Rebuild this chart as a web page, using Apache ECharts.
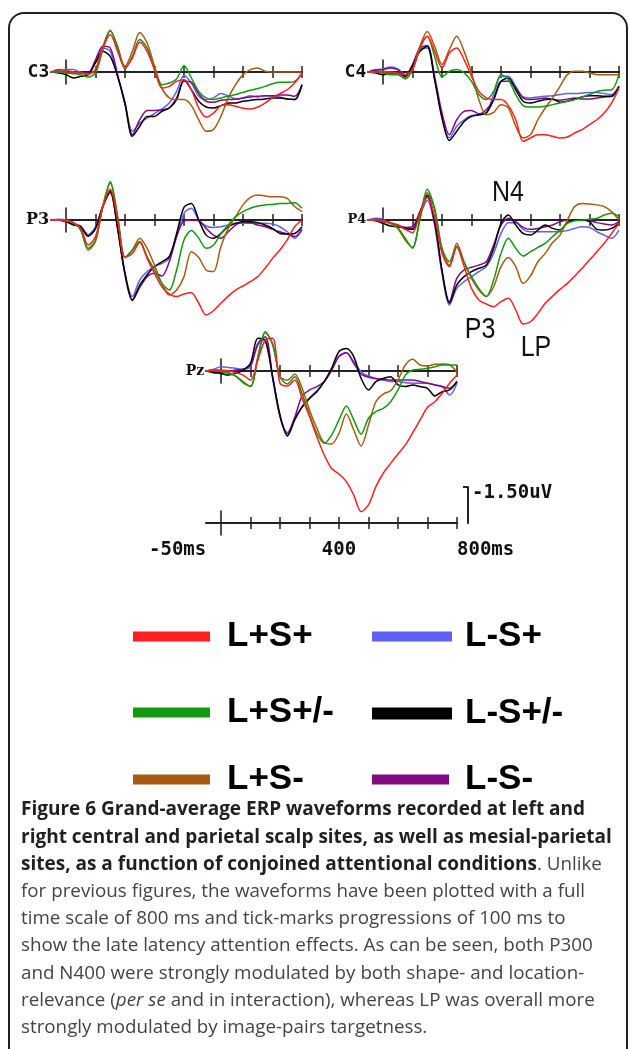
<!DOCTYPE html>
<html><head><meta charset="utf-8">
<script src="https://cdn.jsdelivr.net/npm/echarts@6/dist/echarts.min.js"></script>
<style>html,body{margin:0;padding:0;background:#fff}#c{width:629px;height:1049px}</style>
</head><body><div id="c"></div>
<script>
// ---------- data ----------
const TIMES = [-50,-25,0,25,50,75,100,125,150,175,200,225,250,275,300,325,350,375,400,425,450,475,500,525,550,575,600,625,650,675,700,725,750,775,800];
const CONDITIONS = ['L+S+','L-S+','L+S+/-','L-S+/-','L+S-','L-S-'];
const PANEL_NAMES = ['C3','C4','P3','P4','Pz'];
const TICKS_MS = [100,200,300,400,500,600,700,800];
const SCALE_LABEL_VALUES = [-50,400,800];
const SCALE_LABEL_TEXT = ['-50ms','400','800ms'];
const SCALE_BAR_UV = [-1.5];
const SCALE_BAR_TEXT = ['-1.50uV'];
const ANNOTATIONS = ['N4','P3','LP'];

// values in microvolts (negative up)
const C3_LpSp  = [0,-0.1,-0.07,0,0.04,0.07,-0.1,-1.0,-1.56,-0.86,-0.17,-0.58,-1.24,-0.86,-0.1,0.67,0.6,0.39,0.32,0.74,1.5,1.88,1.71,1.4,1.36,1.43,1.51,1.54,1.46,1.29,1.08,0.9,0.74,0.46,0.04];
const C3_LmSp  = [0,-0.07,-0.1,-0.1,0.01,0.07,-0.44,-1.0,-0.86,0.18,1.29,2.47,2.13,1.92,1.74,1.54,1.29,0.81,0.15,0.46,1.01,1.15,1.08,0.9,0.99,1.13,1.08,0.99,1.04,0.99,1.01,1.04,1.13,1.15,0.53];
const C3_LpSpm = [0,0,0.04,0.07,0.11,0.21,0.04,-0.93,-1.72,-1.07,-0.13,-0.65,-1.35,-1.0,-0.13,0.53,0.46,0.29,-0.26,0.25,0.81,1.08,1.15,1.08,1.01,0.94,0.85,0.76,0.69,0.6,0.49,0.43,0.43,0.39,0.07];
const C3_LmSpm = [0,0.04,0.11,0.25,0.18,0.11,-0.38,-0.86,-0.65,0.18,1.29,2.68,2.26,1.85,1.85,1.64,1.5,1.15,0.32,0.74,1.22,1.46,1.5,1.4,1.29,1.29,1.22,1.18,1.15,1.13,1.08,1.08,1.13,1.15,0.53];
const C3_LpSm  = [0,0,0,0.01,0.04,0.11,-0.1,-1.07,-1.74,-1.0,-0.24,-0.86,-1.65,-1.21,-0.24,0.67,1.08,1.15,1.15,1.4,1.99,2.47,2.4,1.85,1.08,0.53,0.11,-0.1,-0.17,-0.03,0,0,0,0,0];
const C3_LmSm  = [0,-0.03,0.01,0.04,0.04,0.04,-0.51,-1.07,-1.0,0.11,1.36,2.61,1.99,1.6,1.6,1.57,1.5,1.08,0.39,0.43,0.9,1.22,1.26,1.18,1.15,1.13,1.08,1.04,1.01,0.99,0.99,0.96,0.96,1.01,0.53];

const C4_LpSp  = [0,0,-0.03,0,0.04,0.11,-0.1,-1.0,-1.49,-0.86,-0.17,-0.79,-1.0,-0.51,0.18,0.81,1.08,1.15,1.15,1.4,1.99,2.89,2.75,2.61,2.61,2.68,2.75,2.71,2.54,2.4,2.19,1.99,1.71,1.29,0.67];
const C4_LmSp  = [0,-0.1,-0.13,-0.21,-0.13,0.11,-0.24,-0.93,-1.0,0.32,1.85,2.75,2.26,1.99,1.81,1.78,1.71,0.94,0.18,0.18,0.6,1.04,1.08,1.04,1.01,0.99,0.94,0.9,0.9,0.88,0.85,0.85,0.9,0.94,0.6];
const C4_LpSpm = [0,0,0.04,0.11,0.11,0.29,-0.1,-1.0,-1.49,-0.65,0.21,-0.03,-0.1,0.04,0.39,0.94,1.15,0.81,0.11,0.32,0.94,1.4,1.46,1.46,1.43,1.36,1.29,1.22,1.15,1.04,0.94,0.81,0.76,0.74,0.11];
const C4_LmSpm = [0,0.04,0.11,0.07,0.04,0.18,-0.24,-0.86,-1.07,0.32,1.92,2.85,2.47,2.06,1.85,1.78,1.71,1.15,0.39,0.25,0.74,1.22,1.29,1.22,1.15,1.13,1.26,1.22,1.13,1.04,0.99,0.99,1.01,1.01,0.6];
const C4_LpSm  = [0,0,0,0.04,0.07,0.25,-0.1,-1.07,-1.69,-1.07,-0.31,-0.93,-1.49,-0.86,0.04,1.15,1.78,1.68,1.36,1.5,2.26,2.75,2.61,1.99,1.5,1.08,0.6,0.11,-0.03,-0.03,0.04,0.11,0.11,0.11,0.11];
const C4_LmSm  = [0,-0.07,-0.1,-0.17,-0.1,0.15,-0.31,-1.0,-1.1,0.18,1.71,2.61,1.99,1.64,1.6,1.74,1.57,1.15,0.39,0.39,0.67,1.08,1.15,1.13,1.08,1.15,1.18,1.13,1.08,1.13,1.13,1.08,1.04,1.01,0.6];

const P3_LpSp  = [0,0,0.03,0.11,0.35,1.04,0.69,-0.56,-1.28,0,1.56,1.39,0.94,1.6,2.22,2.78,3.08,3.19,3.08,3.03,3.47,3.96,3.78,3.47,3.17,2.92,2.75,2.57,2.36,2.01,1.6,1.25,0.83,0.28,0];
const P3_LmSp  = [0,-0.03,0,0.14,0.25,0.6,0.3,-0.58,-1.11,0.35,2.22,3.19,2.5,2.15,1.94,1.81,1.6,0.69,-0.28,-0.49,0,0.25,0.31,0.28,0.21,0.14,0.14,0.14,0.14,0.14,0.17,0.28,0.49,0.76,0.39];
const P3_LpSpm = [0,0,0.03,0.11,0.42,1.18,0.83,-0.58,-1.6,-0.14,1.56,1.25,0.9,1.53,2.08,2.64,2.92,2.08,0.83,0.44,0.76,1.18,1.04,0.58,0.21,-0.14,-0.35,-0.49,-0.58,-0.63,-0.65,-0.69,-0.69,-0.72,-0.49];
const P3_LmSpm = [0,0,0.07,0.21,0.28,0.67,0.35,-0.56,-1.18,0.35,2.22,3.33,2.71,2.29,1.94,1.74,1.53,0.56,-0.53,-0.69,0,0.63,0.76,0.56,0.28,0.14,0.07,0.07,0.11,0.21,0.35,0.56,0.58,0.56,0.28];
const P3_LpSm  = [0,0,0.03,0.11,0.42,1.25,0.9,-0.56,-1.53,-0.14,1.56,1.25,0.76,1.18,1.88,2.64,3.13,2.92,2.36,1.32,1.56,2.08,2.15,1.11,0.35,-0.14,-0.63,-0.94,-1.04,-1.0,-0.97,-0.97,-0.9,-0.56,-0.35];
const P3_LmSm  = [0,0,0.07,0.14,0.31,0.67,0.35,-0.6,-1.22,0.35,2.29,3.36,2.81,2.36,2.22,2.33,1.74,0.69,0.03,0,0.03,0.35,0.63,0.76,0.49,0.21,0.07,0.11,0.21,0.28,0.39,0.49,0.58,0.69,0.39];

const P4_LpSp  = [0,0,0.03,0.11,0.21,0.39,0.53,-0.28,-0.94,-0.14,1.39,1.94,1.14,1.94,2.85,3.33,3.5,3.61,3.4,3.26,3.75,4.33,4.24,3.89,3.47,3.17,2.89,2.64,2.33,2.01,1.67,1.32,0.97,0.56,0.14];
const P4_LmSp  = [0,-0.07,-0.03,0.14,0.25,0.31,0.35,-0.21,-0.81,0.21,2.22,3.54,2.85,2.57,2.36,2.15,1.94,1.39,0.56,0.11,0.11,0.39,0.49,0.49,0.49,0.49,0.49,0.44,0.35,0.28,0.31,0.49,0.63,0.76,0.42];
const P4_LpSpm = [0,0,0.07,0.14,0.31,0.76,1.18,-0.07,-1.28,-0.49,1.18,1.74,1.08,1.78,2.36,2.85,3.19,2.5,1.39,0.76,1.18,1.5,1.32,1.14,0.97,0.69,0.42,0.14,0.03,0,-0.03,-0.07,-0.21,-0.28,-0.14];
const P4_LmSpm = [0,0.03,0.14,0.25,0.28,0.35,0.39,-0.28,-1.04,0,2.08,3.47,2.71,2.36,2.15,2.01,1.88,1.18,0.14,-0.21,0.21,0.56,0.63,0.42,0.21,0.35,0.42,0.11,0,0,0.07,0.39,0.42,0.35,0.14];
const P4_LpSm  = [0,0,0.07,0.14,0.35,0.83,1.14,0,-1.14,-0.42,1.25,1.88,0.97,1.74,2.43,2.92,3.19,2.78,1.94,1.56,1.94,2.64,2.33,1.74,1.39,0.94,0.63,0,-0.56,-0.69,-0.67,-0.63,-0.56,-0.35,0];
const P4_LmSm  = [0,-0.03,0,0.11,0.21,0.31,0.28,-0.35,-0.97,0.14,2.15,3.4,2.43,2.08,1.97,1.88,1.74,1.04,0.21,-0.07,0.07,0.31,0.39,0.35,0.28,0.21,0.07,0,0,0,0.03,0.11,0.17,0.21,0.07];

const Pz_LpSp  = [0,-0.04,-0.04,-0.01,0.07,0.17,0.38,-0.46,-1.29,-1.36,0.51,0.63,0.38,1.14,1.9,2.74,3.5,4.06,4.29,4.61,5.17,5.86,5.58,4.82,4.26,3.85,3.46,3.08,2.57,2.04,1.51,1.28,0.93,0.51,0.17];
const Pz_LmSp  = [0,-0.07,-0.18,-0.15,-0.11,-0.07,-0.18,-1.08,-1.32,0.31,1.9,2.57,1.97,1.51,1.14,0.82,0.44,-0.04,-0.63,-0.76,-0.39,0.03,0.21,0.31,0.38,0.44,0.44,0.49,0.51,0.51,0.51,0.58,0.65,1.0,0.51];
const Pz_LpSpm = [0,-0.01,0.03,0.1,0.21,0.49,0.63,-0.53,-1.64,-1.08,0.24,0.54,0.24,0.96,1.83,2.6,3.01,2.67,2.04,1.46,2.04,2.63,1.97,1.69,1.56,1.28,0.79,0.17,-0.04,-0.07,-0.11,-0.18,-0.25,-0.25,-0.25];
const Pz_LmSpm = [0,0.07,0.1,0.17,0.1,-0.04,-0.32,-1.36,-1.26,0.24,1.83,2.71,2.04,1.49,1.14,0.86,0.44,-0.11,-0.81,-0.94,-0.6,0.31,0.79,0.44,0.31,0.24,0.58,0.65,0.58,0.65,0.72,1.04,0.86,0.79,0.44];
const Pz_LpSm  = [0,-0.04,-0.01,0.07,0.21,0.44,0.65,-0.6,-1.6,-1.15,0.24,0.38,0.13,0.72,1.63,2.39,2.99,3.04,2.6,1.79,2.46,3.13,2.25,1.28,0.96,0.82,0.38,-0.25,-0.49,-0.25,-0.21,-0.28,-0.29,-0.25,0.03];
const Pz_LmSm  = [0,0.03,0.07,0.03,-0.04,-0.07,-0.25,-1.15,-1.43,0.24,1.9,2.63,1.93,1.04,0.79,0.65,0.44,-0.04,-0.6,-0.76,-0.32,0.13,0.26,0.31,0.35,0.38,0.38,0.38,0.38,0.44,0.51,0.58,0.65,0.72,0.44];

const VALUES = {
  C3: [C3_LpSp, C3_LmSp, C3_LpSpm, C3_LmSpm, C3_LpSm, C3_LmSm],
  C4: [C4_LpSp, C4_LmSp, C4_LpSpm, C4_LmSpm, C4_LpSm, C4_LmSm],
  P3: [P3_LpSp, P3_LmSp, P3_LpSpm, P3_LmSpm, P3_LpSm, P3_LmSm],
  P4: [P4_LpSp, P4_LmSp, P4_LpSpm, P4_LmSpm, P4_LpSm, P4_LmSm],
  Pz: [Pz_LpSp, Pz_LmSp, Pz_LpSpm, Pz_LmSpm, Pz_LpSm, Pz_LmSm]
};

// ---------- style / layout ----------
const COLORS = {'L+S+':'#ff1f1f','L-S+':'#5f5ff5','L+S+/-':'#109a10','L-S+/-':'#000000','L+S-':'#a85a10','L-S-':'#820a82'};
const DRAW_ORDER = ['L-S+','L-S-','L-S+/-','L+S-','L+S+/-','L+S+'];
const PX_PER_MS = 0.295, PX_PER_UV = 24, XMIN = -50, XMAX = 800, YMIN = -2.5, YMAX = 6.5, TALL_PX = 12;
const AXIS_COLOR = '#222';
const MONO = {fontFamily:'DejaVu Sans Mono', fontWeight:'bold', color:'#111'};
const SERIF = {fontFamily:'DejaVu Serif', fontWeight:'bold', color:'#111'};
const PANEL_LAYOUT = {
  C3:{x0:66,  base:72,  label:Object.assign({fontSize:18}, MONO)},
  C4:{x0:383, base:72,  label:Object.assign({fontSize:18}, MONO)},
  P3:{x0:66,  base:220, label:Object.assign({fontSize:16}, SERIF)},
  P4:{x0:383, base:220, label:Object.assign({fontSize:13}, SERIF)},
  Pz:{x0:221, base:371, label:Object.assign({fontSize:14}, SERIF)}
};
const SCALE_LAYOUT = {x0:221, base:523};
const SCALEBAR_LAYOUT = {left:468, bottom:523};
const LEGEND_LAYOUT = {
  'L+S+':  {left:133, cy:636, w:77, h:10, gap:12},
  'L-S+':  {left:372, cy:636, w:80, h:10, gap:8},
  'L+S+/-':{left:133, cy:712, w:77, h:10, gap:12},
  'L-S+/-':{left:372, cy:713, w:80, h:12, gap:8},
  'L+S-':  {left:133, cy:779, w:77, h:10, gap:12},
  'L-S-':  {left:372, cy:779, w:77, h:10, gap:11}
};

const grid = [], xAxis = [], yAxis = [], series = [], legend = [];
const add = (arr, o) => { arr.push(o); return arr.length - 1; };

function addAxisCross(x0, base, name, nameStyle, labels) {
  const gi = add(grid, {left: x0 + XMIN*PX_PER_MS, top: base - TALL_PX, width: (XMAX-XMIN)*PX_PER_MS, height: 2*TALL_PX});
  const yi = add(yAxis, {type:'value', gridIndex:gi, min:-1, max:1,
    axisLine:{show:true, onZero:true, lineStyle:{color:AXIS_COLOR, width:1.6}},
    axisTick:{show:false}, axisLabel:{show:false}, splitLine:{show:false}});
  const common = {type:'value', gridIndex:gi, min:XMIN, max:XMAX, splitLine:{show:false},
    axisLine:{show:true, onZero:true, onZeroAxisIndex:yi, lineStyle:{color:AXIS_COLOR, width:2}},
    axisTick:{show:true, customValues:TICKS_MS, length:6, lineStyle:{color:AXIS_COLOR, width:1.5}},
    axisLabel:{show:false}};
  const xb = Object.assign({}, common, {position:'bottom'});
  if (name) { xb.name = name; xb.nameLocation = 'start'; xb.nameGap = 2; xb.nameTextStyle = Object.assign({align:'right', verticalAlign:'middle'}, nameStyle); }
  if (labels) {
    xb.axisLabel = Object.assign({show:true, customValues:SCALE_LABEL_VALUES, margin:6, fontSize:19,
      alignMinLabel:'right', alignMaxLabel:'left',
      formatter: v => SCALE_LABEL_TEXT[SCALE_LABEL_VALUES.indexOf(v)]}, MONO);
  }
  add(xAxis, xb);
  add(xAxis, Object.assign({}, common, {position:'top'}));
}

PANEL_NAMES.forEach(key => {
  const L = PANEL_LAYOUT[key];
  const gi = add(grid, {left: L.x0 + XMIN*PX_PER_MS, top: L.base + YMIN*PX_PER_UV,
    width: (XMAX-XMIN)*PX_PER_MS, height: (YMAX-YMIN)*PX_PER_UV});
  const xi = add(xAxis, {type:'value', gridIndex:gi, min:XMIN, max:XMAX, show:false});
  const yi = add(yAxis, {type:'value', gridIndex:gi, min:YMIN, max:YMAX, inverse:true, show:false});
  DRAW_ORDER.forEach((cond, z) => {
    const vals = VALUES[key][CONDITIONS.indexOf(cond)];
    series.push({type:'line', name:cond, xAxisIndex:xi, yAxisIndex:yi, z:3+z,
      data: TIMES.map((t, k) => [t, vals[k]]), showSymbol:false, symbol:'none', smooth:0.3,
      color: COLORS[cond], lineStyle:{width:1.5, color: COLORS[cond]}, silent:true});
  });
  addAxisCross(L.x0, L.base, key, L.label, false);
});
addAxisCross(SCALE_LAYOUT.x0, SCALE_LAYOUT.base, null, null, true);

// scale bar (1.5 uV) as a vertical axis
{
  const h = Math.abs(SCALE_BAR_UV[0]) * PX_PER_UV;
  const gi = add(grid, {left: SCALEBAR_LAYOUT.left, top: SCALEBAR_LAYOUT.bottom - h, width: 10, height: h});
  add(xAxis, {type:'value', gridIndex:gi, min:0, max:1, show:false});
  add(yAxis, {type:'value', gridIndex:gi, min:SCALE_BAR_UV[0], max:0, inverse:true, position:'left',
    axisLine:{show:true, onZero:false, lineStyle:{color:AXIS_COLOR, width:2}},
    axisTick:{show:true, customValues:SCALE_BAR_UV, length:5, lineStyle:{color:AXIS_COLOR, width:2}},
    axisLabel:Object.assign({show:true, inside:true, customValues:SCALE_BAR_UV, margin:4, fontSize:19,
      verticalAlign:'top', lineHeight:12, formatter: () => SCALE_BAR_TEXT[0]}, MONO),
    splitLine:{show:false}});
}

CONDITIONS.forEach(cond => {
  const L = LEGEND_LAYOUT[cond];
  legend.push({data:[cond], left:L.left, top:L.cy - 17, orient:'horizontal', padding:0, itemGap:0,
    icon:'rect', itemWidth:L.w, itemHeight:L.h, selectedMode:false,
    textStyle:{fontFamily:'Liberation Sans', fontWeight:'bold', fontSize:35, color:'#000', padding:[0,0,0,L.gap]}});
});

const BOLD = {fontFamily:'Open Sans', fontWeight:'bold', fontSize:19, color:'#231f20'};
const REG = {fontFamily:'Open Sans', fontWeight:'normal', fontSize:18.8, color:'#444'};
const ITAL = {fontFamily:'Open Sans', fontStyle:'italic', fontSize:18.8, color:'#444'};
const CAPTION = [
  '{b|Figure 6 Grand-average ERP waveforms recorded at left and}',
  '{b|right central and parietal scalp sites, as well as mesial-parietal}',
  '{b|sites, as a function of conjoined attentional conditions}{r|. Unlike}',
  '{r|for previous figures, the waveforms have been plotted with a full}',
  '{r|time scale of 800 ms and tick-marks progressions of 100 ms to}',
  '{r|show the late latency attention effects. As can be seen, both P300}',
  '{r|and N400 were strongly modulated by both shape- and location-}',
  '{r|relevance (}{i|per se}{r| and in interaction), whereas LP was overall more}',
  '{r|strongly modulated by image-pairs targetness.}'
];
const toRich = s => ({fontFamily:s.fontFamily, fontWeight:s.fontWeight||'normal', fontStyle:s.fontStyle||'normal', fontSize:s.fontSize, fill:s.color});

const graphic = [
  {type:'rect', shape:{x:9, y:13, width:618, height:1100, r:15}, style:{fill:'none', stroke:'#222', lineWidth:2}, silent:true},
];
const ANN_POS = [[508,193],[480,330],[536,348]];
ANNOTATIONS.forEach((t, i) => graphic.push({type:'text', x:ANN_POS[i][0], y:ANN_POS[i][1], scaleY:1.2,
  style:{text:t, fontFamily:'Liberation Sans', fontSize:25, fill:'#111', align:'center', verticalAlign:'middle', textAlign:'center', textVerticalAlign:'middle'}}));
CAPTION.forEach((line, i) => graphic.push({type:'text', x:21, y:810 + i*27.2,
  style:{text:line, align:'left', verticalAlign:'middle', textAlign:'left', textVerticalAlign:'middle',
    rich:{b:toRich(BOLD), r:toRich(REG), i:toRich(ITAL)}}}));

const chart = echarts.init(document.getElementById('c'), null, {renderer:'canvas'});
chart.setOption({animation:false, backgroundColor:'#fff', grid, xAxis, yAxis, series, legend, graphic});
</script></body></html>
